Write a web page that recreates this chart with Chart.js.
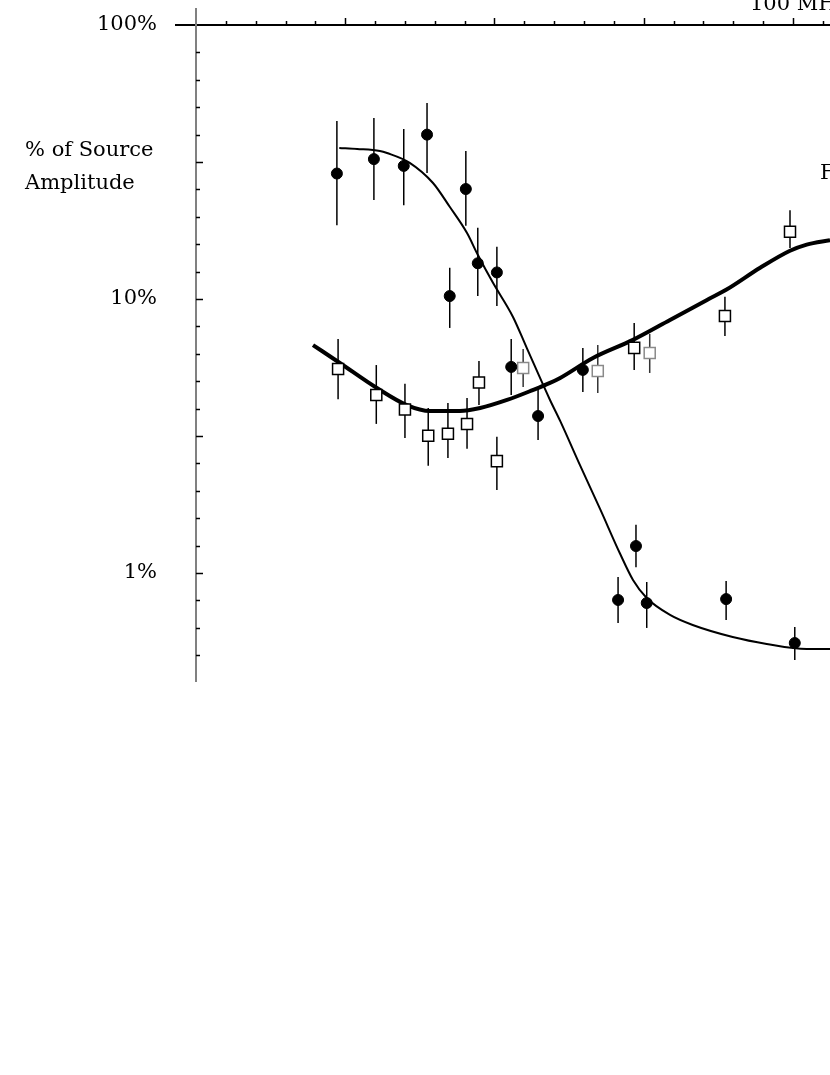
<!DOCTYPE html>
<html>
<head>
<meta charset="utf-8">
<script src="https://cdn.jsdelivr.net/npm/chart.js@4.4.1/dist/chart.umd.min.js"></script>
<style>
  html, body { margin: 0; padding: 0; background: #fff; overflow: hidden; }
  #wrap { width: 830px; height: 1075px; position: relative; }
  canvas { display: block; }
</style>
</head>
<body>
<div id="wrap"><canvas id="chart"></canvas></div>
<script>
// ---- measured points: filled circles ----
const circleMHz = [23.6, 29.8, 34.8, 38.7, 45.2, 42.5, 47.2, 50.4, 52.8, 57.3, 64.8, 73.7, 70.7, 75.5, 88.8, 100.3];
const circlePct = [28.7, 32.4, 30.6, 39.8, 25.2, 10.25, 13.5, 12.5, 5.65, 3.74, 5.51, 1.254, 0.797, 0.777, 0.803, 0.555];
const circleHi  = [44.6, 45.8, 41.7, 51.9, 34.7, 13.0, 18.2, 15.5, 7.15, 4.77, 6.63, 1.50, 0.967, 0.927, 0.935, 0.635];
const circleLo  = [18.6, 23.0, 22.0, 28.8, 18.5, 7.84, 10.25, 9.43, 4.46, 3.06, 4.58, 1.05, 0.657, 0.630, 0.674, 0.481];

// ---- measured points: open squares ----
const squareMHz = [23.8, 30.2, 35.0, 38.9, 42.2, 45.4, 47.4, 50.4, 54.8, 67.3, 73.4, 76.0, 88.6, 99.5];
const squarePct = [5.55, 4.46, 3.95, 3.17, 3.22, 3.50, 4.96, 2.56, 5.60, 5.46, 6.63, 6.35, 8.67, 17.6];
const squareHi  = [7.15, 5.74, 4.90, 4.00, 4.17, 4.35, 5.94, 3.14, 6.57, 6.79, 8.17, 7.46, 10.2, 21.1];
const squareLo  = [4.31, 3.50, 3.11, 2.46, 2.63, 2.84, 4.10, 2.01, 4.77, 4.54, 5.51, 5.37, 7.33, 15.35];
const greySquares = [8, 9, 11];

// ---- fitted curves ----
const fallMHz = [24.0, 27.0, 30.8, 32.0, 35.8, 39.7, 42.5, 45.4, 47.2, 49.7, 53.1, 55.4, 59.3, 61.0, 64.3, 67.7, 71.0, 73.2, 75.5, 79.4, 83.2, 89.9, 95.6, 102.3, 106.2];
const fallPct = [35.6, 35.3, 34.7, 34.1, 31.4, 26.5, 21.7, 17.4, 14.5, 11.5, 8.60, 6.63, 4.28, 3.59, 2.48, 1.71, 1.18, 0.943, 0.810, 0.703, 0.646, 0.584, 0.551, 0.528, 0.528];

const riseMHz = [19.6, 24.1, 30.3, 35.3, 39.2, 44.2, 47.6, 52.1, 56.4, 59.3, 61.0, 66.5, 73.2, 79.4, 85.6, 88.8, 94.5, 99.5, 102.3, 106.2];
const risePct = [6.79, 5.84, 4.73, 4.10, 3.90, 3.90, 4.00, 4.28, 4.65, 4.94, 5.15, 6.09, 7.09, 8.38, 9.92, 10.8, 13.0, 15.0, 15.8, 16.4];

// ---- axes ----
const xMin = 0, xMax = 106.2, xStep = 5, xMajor = 25;
const yMin = 0.4, yMax = 100;
const yLabelVals = [100, 10, 1];
const yLabels = ['100%', '10%', '1%'];
const topLabel = '100 MHz';
const yTitle = ['% of Source', 'Amplitude'];
const sideLabel = 'F';

const pts = (xs, ys) => xs.map((x, i) => ({ x, y: ys[i] }));
const FONT = '21px "DejaVu Serif", "Liberation Serif", serif';

const errorBars = {
  id: 'errorBars',
  beforeDatasetsDraw(chart) {
    const { ctx, scales: { x, y } } = chart;
    ctx.save();
    ctx.lineWidth = 1.5;
    chart.data.datasets.forEach(ds => {
      if (!ds.errHi) return;
      ds.data.forEach((p, i) => {
        const px = x.getPixelForValue(p.x);
        ctx.strokeStyle = ds.barColor ? ds.barColor(i) : '#000';
        ctx.beginPath();
        ctx.moveTo(px, y.getPixelForValue(ds.errHi[i]));
        ctx.lineTo(px, y.getPixelForValue(ds.errLo[i]));
        ctx.stroke();
      });
    });
    ctx.restore();
  }
};

const axesAndText = {
  id: 'axesAndText',
  afterDraw(chart) {
    const { ctx, chartArea: a, scales: { x, y } } = chart;
    ctx.save();

    // top frequency axis
    ctx.strokeStyle = '#000';
    ctx.lineWidth = 2;
    ctx.beginPath();
    ctx.moveTo(a.left - 21, a.top);
    ctx.lineTo(a.right, a.top);
    ctx.stroke();
    ctx.lineWidth = 1.5;
    for (let v = xMin + xStep; v <= xMax; v += xStep) {
      const px = Math.round(x.getPixelForValue(v)) + 0.5;
      const len = v % xMajor === 0 ? 7 : 4;
      ctx.beginPath();
      ctx.moveTo(px, a.top);
      ctx.lineTo(px, a.top - len);
      ctx.stroke();
    }

    // left amplitude axis
    ctx.strokeStyle = '#808080';
    ctx.lineWidth = 2;
    ctx.beginPath();
    ctx.moveTo(a.left, a.top - 17);
    ctx.lineTo(a.left, a.bottom);
    ctx.stroke();
    ctx.strokeStyle = '#000';
    ctx.lineWidth = 1.5;
    for (let k = -3; k < 20; k++) {
      const py = Math.round(y.getPixelForValue(Math.pow(10, k / 10))) + 0.5;
      const len = k % 5 === 0 ? 7 : 4;
      ctx.beginPath();
      ctx.moveTo(a.left, py);
      ctx.lineTo(a.left + len, py);
      ctx.stroke();
    }

    // texts
    ctx.fillStyle = '#000';
    ctx.font = FONT;
    ctx.textAlign = 'right';
    ctx.textBaseline = 'middle';
    yLabelVals.forEach((v, i) => ctx.fillText(yLabels[i], 157, y.getPixelForValue(v)));
    ctx.textAlign = 'left';
    ctx.textBaseline = 'alphabetic';
    ctx.fillText(yTitle[0], 25, 156);
    ctx.fillText(yTitle[1], 25, 189);
    ctx.fillText(topLabel, 750, 10);
    ctx.fillText(sideLabel, 820, 179);
    ctx.restore();
  }
};

new Chart(document.getElementById('chart'), {
  type: 'scatter',
  data: {
    datasets: [
      {
        data: pts(fallMHz, fallPct), showLine: true, borderColor: '#000', borderWidth: 2,
        pointRadius: 0, cubicInterpolationMode: 'monotone', order: 4
      },
      {
        data: pts(riseMHz, risePct), showLine: true, borderColor: '#000', borderWidth: 4,
        pointRadius: 0, cubicInterpolationMode: 'monotone', order: 3
      },
      {
        data: pts(squareMHz, squarePct), errHi: squareHi, errLo: squareLo,
        barColor: i => greySquares.includes(i) ? '#333' : '#000',
        pointStyle: 'rect', pointRadius: 7.8, borderWidth: 1.5,
        pointBorderColor: squareMHz.map((_, i) => greySquares.includes(i) ? '#8a8a8a' : '#000'),
        pointBackgroundColor: '#fff', order: 2
      },
      {
        data: pts(circleMHz, circlePct), errHi: circleHi, errLo: circleLo,
        pointStyle: 'circle', pointRadius: 5.5, borderWidth: 1,
        pointBorderColor: '#000', pointBackgroundColor: '#000', order: 1
      }
    ]
  },
  options: {
    responsive: true,
    maintainAspectRatio: false,
    animation: false,
    layout: { autoPadding: false, padding: { left: 196, top: 25, right: 0, bottom: 393 } },
    plugins: { legend: { display: false }, tooltip: { enabled: false } },
    scales: {
      x: { type: 'linear', min: xMin, max: xMax, display: false },
      y: { type: 'logarithmic', min: yMin, max: yMax, display: false }
    }
  },
  plugins: [errorBars, axesAndText]
});
</script>
</body>
</html>
